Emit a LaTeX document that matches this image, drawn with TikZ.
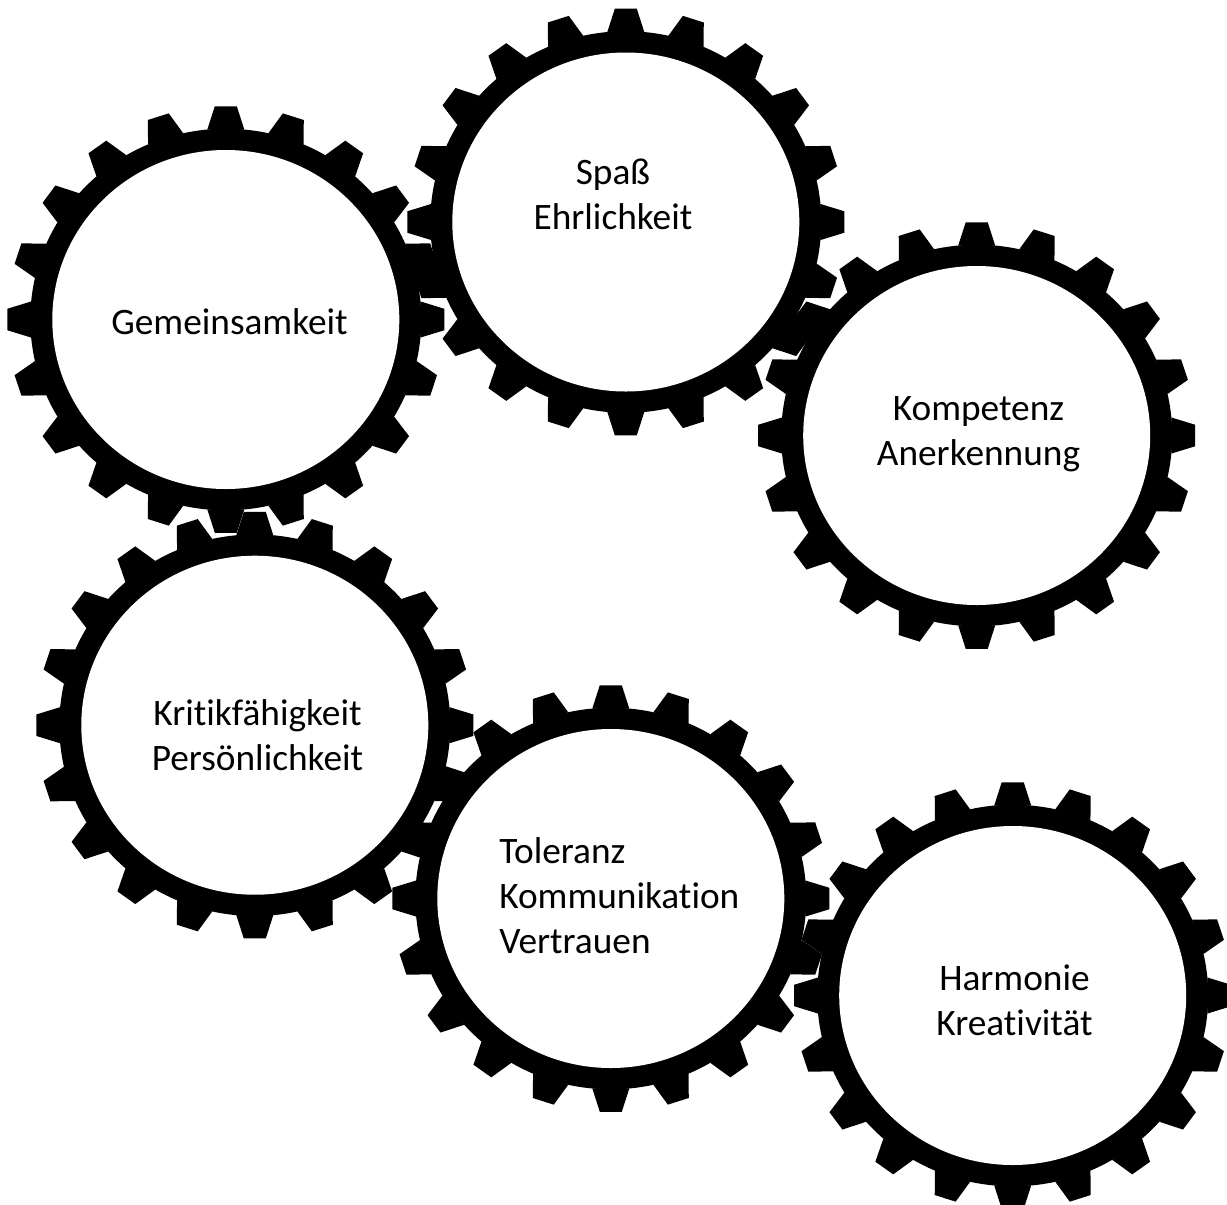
\documentclass[tikz,border=0pt]{standalone}
\usepackage{fontspec}
\setmainfont{Carlito}[Ligatures=NoCommon]
\usetikzlibrary{shapes.geometric}

\tikzset{
  hole/.style={ellipse, fill=white, inner sep=0pt, outer sep=0pt, minimum width=260.25pt, minimum height=254.25pt},
  gearlabel/.style={inner sep=0pt, font=\fontsize{28}{33.75}\selectfont}
}

\newcommand{\gear}[3]{
  \begin{scope}[shift={(#2,#3)}, yscale=0.976]
    \fill (0,0) circle (195.5);
    \foreach \a in {0,18,...,342}
      \fill[rotate=\a] (-18.5,194.6) -- (-11,218.5) -- (11,218.5) -- (18.5,194.6) -- cycle;
  \end{scope}
  \node (#1) [hole] at (#2,#3) {};
}

\begin{document}
\begin{tikzpicture}[x=0.75pt, y=-0.75pt]
\clip (0,0) rectangle (1227,1204);

\gear{gearG}{225.8}{319.5}
\gear{gearS}{625.8}{222}
\gear{gearK}{976.7}{435.5}
\gear{gearP}{254.8}{725.2}
\gear{gearT}{610.8}{898.5}
\gear{gearH}{1012.7}{995.5}

\node (textG) [gearlabel] at (229.5,322) {Gemeinsamkeit};
\node (textS) [gearlabel, align=center] at (613,194) {Spaß\\Ehrlichkeit};
\node (textK) [gearlabel, align=center] at (978.5,434) {Kompetenz\\Anerkennung};
\node (textP) [gearlabel, align=center] at (257.5,735) {Kritikfähigkeit\\Persönlichkeit};
\node (textT) [gearlabel, align=left, anchor=west] at (499,896) {Toleranz\\Kommunikation\\Vertrauen};
\node (textH) [gearlabel, align=center] at (1014.5,1000) {Harmonie\\Kreativität};
\end{tikzpicture}
\end{document}
